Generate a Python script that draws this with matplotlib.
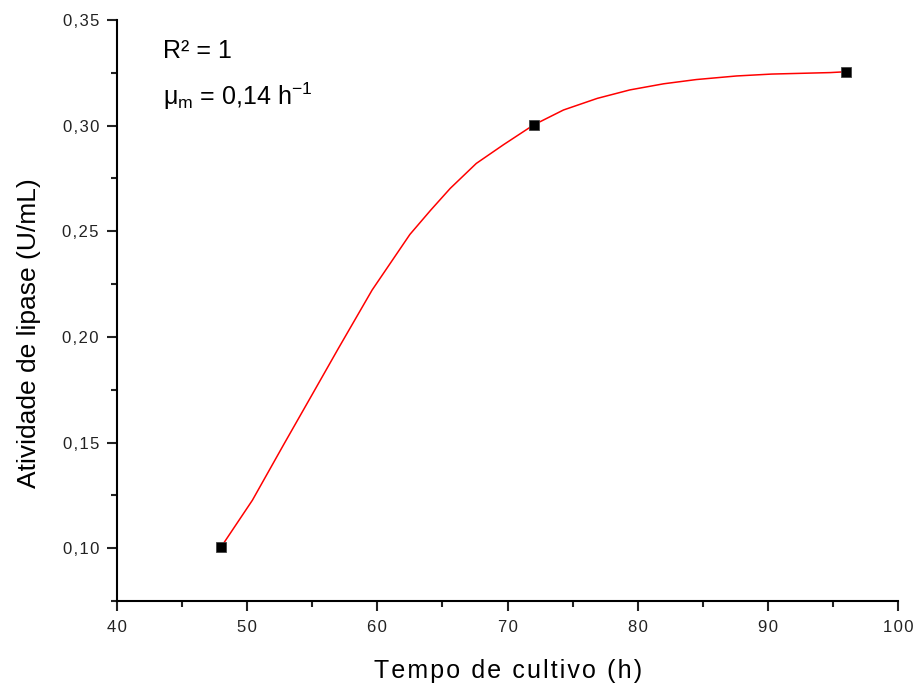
import matplotlib
matplotlib.use("Agg")
import matplotlib.pyplot as plt
from matplotlib.ticker import MultipleLocator, FuncFormatter

plt.rcParams['font.family'] = ['Liberation Sans', 'DejaVu Sans']
plt.rcParams['mathtext.fontset'] = 'custom'
plt.rcParams['mathtext.rm'] = 'Liberation Sans'
plt.rcParams['mathtext.it'] = 'Liberation Sans'

# measured points
time_h = [48, 72, 96]
lipase = [0.1006, 0.3003, 0.3255]

# fitted curve
fit_t = [48.0, 50.4, 52.8, 55.0, 57.0, 59.6, 62.5, 64.1, 65.6, 67.6,
         69.7, 72.0, 74.3, 76.9, 79.4, 82.0, 84.5, 87.6, 90.3, 94.8, 96.0]
fit_y = [0.1006, 0.1227, 0.1490, 0.1728, 0.1945, 0.2222, 0.2485, 0.2600,
         0.2703, 0.2821, 0.2910, 0.3003, 0.3074, 0.3129, 0.3169, 0.3198,
         0.3218, 0.3235, 0.3244, 0.3251, 0.3255]

HS = '\u200a'  # hair space, the original labels are slightly letter-spaced


def spaced(s):
    return HS.join(s)


fig = plt.figure(figsize=(9.17, 6.84), dpi=100)
ax = fig.add_axes([0.1276, 0.1213, 0.8517, 0.8495])

ax.plot(fit_t, fit_y, color='red', lw=1.1, zorder=2)
ax.plot(time_h, lipase, 's', color='black', ms=7, mec='#444444', mew=0.6, zorder=3)

ax.set_xlim(40, 100)
ax.set_ylim(0.075, 0.35)
ax.xaxis.set_major_locator(MultipleLocator(10))
ax.xaxis.set_minor_locator(MultipleLocator(5))
ax.yaxis.set_major_locator(MultipleLocator(0.05))
ax.yaxis.set_minor_locator(MultipleLocator(0.025))
ax.xaxis.set_major_formatter(FuncFormatter(lambda v, p: spaced(f"{v:.0f}")))
ax.yaxis.set_major_formatter(FuncFormatter(lambda v, p: spaced(f"{v:.2f}".replace('.', ','))))

for side in ('top', 'right'):
    ax.spines[side].set_visible(False)
for side in ('left', 'bottom'):
    ax.spines[side].set_linewidth(1.5)

ax.tick_params(which='major', length=7, width=1.5, labelsize=12, colors='#222222')
ax.tick_params(which='minor', length=4.5, width=1.5, colors='#222222')
ax.tick_params(axis='x', which='major', pad=7)
ax.tick_params(axis='y', which='major', pad=6)

ax.set_xlabel(spaced('Tempo de cultivo (h)'), fontsize=18)
ax.set_ylabel('Atividade de lipase (U/mL)', fontsize=19)
ax.xaxis.set_label_coords(0.5006, -0.0998)
ax.yaxis.set_label_coords(-0.097, 0.461)

ax.text(0.0589, 0.9346, 'R² = 1', transform=ax.transAxes, fontsize=18, va='baseline')
ax.text(0.0589, 0.8537, 'μ$_\\mathrm{m}$ = 0,14 h$^{\\mathrm{-1}}$', transform=ax.transAxes,
        fontsize=18, va='baseline')

fig.savefig('out.png', dpi=100)
